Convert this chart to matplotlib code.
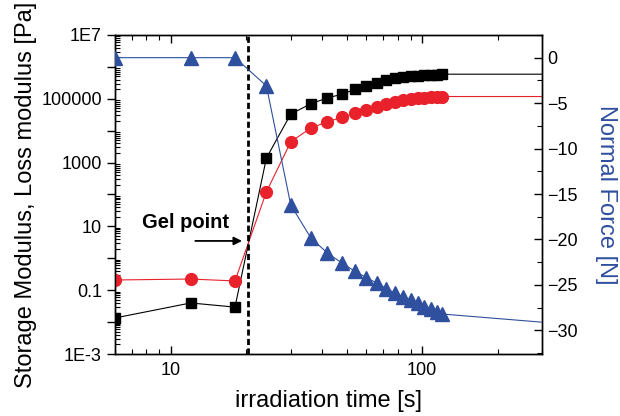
import math
import matplotlib.pyplot as plt
from matplotlib.ticker import LogLocator, FuncFormatter, MultipleLocator, NullFormatter

plt.rcParams['font.family'] = ['Liberation Sans', 'DejaVu Sans']

# irradiation time [s], every 6 s up to 120, last value only carries the line
times = [6, 12, 18, 24, 30, 36, 42, 48, 54, 60, 66, 72, 78, 84, 90,
         96, 102, 108, 114, 120, 300]

# storage modulus G' [Pa] (log10 values)
g_storage_log = [-1.87, -1.40, -1.53, 3.14, 4.52, 4.84, 5.03, 5.14, 5.30, 5.40,
                 5.50, 5.59, 5.64, 5.67, 5.71, 5.71, 5.74, 5.75, 5.76, 5.77, 5.77]
# loss modulus G'' [Pa]
g_loss_log = [-0.68, -0.65, -0.71, 2.08, 3.65, 4.08, 4.28, 4.42, 4.55, 4.65,
              4.75, 4.84, 4.91, 4.96, 4.99, 5.02, 5.03, 5.05, 5.06, 5.07, 5.07]
# normal force [N]
normal_force = [0, 0, 0, -3.1, -16.2, -19.8, -21.5, -22.6, -23.5, -24.2,
                -24.8, -25.4, -25.9, -26.3, -26.7, -27.0, -27.4, -27.7, -28.0,
                -28.2, -29.1]

g_storage = [10 ** v for v in g_storage_log]
g_loss = [10 ** v for v in g_loss_log]

gel_time = 20.2

blue = '#2f4f9f'
red = '#e8212b'

fig = plt.figure(figsize=(6.2, 4.16), dpi=100)
ax = fig.add_axes([0.1855, 0.149, 0.689, 0.767])
ax2 = ax.twinx()

marks = list(range(len(times) - 1))
ax.plot(times, g_storage, color='black', lw=0.8, marker='s', ms=7,
        markevery=marks, zorder=3)
ax.plot(times, g_loss, color=red, lw=0.8, marker='o', ms=8.5,
        markevery=marks, zorder=3)
ax2.plot(times, normal_force, color=blue, lw=0.8, marker='^', ms=9.5,
         markevery=marks, zorder=3)

ax.axvline(gel_time, color='black', lw=2, ls=(0, (2.2, 1.2)), zorder=4)

ax.set_xscale('log')
ax.set_yscale('log')
ax.set_xlim(6, 300)
ax.set_ylim(1e-3, 1e7)
ax2.set_ylim(-32.6, 2.5)

ax.yaxis.set_major_locator(LogLocator(base=10, numticks=20))
ax.yaxis.set_minor_locator(LogLocator(base=10, subs=range(2, 10), numticks=20))
ax.yaxis.set_minor_formatter(NullFormatter())

ytext = {-3: '1E-3', -1: '0.1', 1: '10', 3: '1000', 5: '100000', 7: '1E7'}


def yfmt(v, pos):
    e = int(round(math.log10(v)))
    return ytext.get(e, '')


ax.yaxis.set_major_formatter(FuncFormatter(yfmt))
ax.xaxis.set_major_formatter(FuncFormatter(lambda v, p: '%d' % v))
ax.xaxis.set_minor_formatter(NullFormatter())

ax2.yaxis.set_major_locator(MultipleLocator(5))
ax2.yaxis.set_minor_locator(MultipleLocator(2.5))

ax.tick_params(axis='x', which='both', direction='in', top=True, labelsize=13)
ax.tick_params(axis='x', which='major', length=6, width=1, pad=6)
ax.tick_params(axis='x', which='minor', length=3.5, width=0.8)
ax.tick_params(axis='y', which='major', direction='out', length=6, width=1,
               labelsize=13)
ax.tick_params(axis='y', which='minor', direction='in', length=3.5, width=0.8)
ax2.tick_params(axis='y', which='major', direction='in', length=6, width=1,
                labelsize=13)
ax2.tick_params(axis='y', which='minor', direction='in', length=3.5, width=0.8)

for a in (ax, ax2):
    for s in a.spines.values():
        s.set_linewidth(1)

ax.set_xlabel('irradiation time [s]', fontsize=17, labelpad=8)
ax.set_ylabel('Storage Modulus, Loss modulus [Pa]', fontsize=17, labelpad=3)
ax2.set_ylabel('Normal Force [N]', fontsize=17, color=blue, rotation=270,
               labelpad=28)

ax.text(7.7, 13, 'Gel point', fontsize=14.5, fontweight='bold', ha='left',
        va='center')
ax.annotate('', xy=(19.7, 3.5), xytext=(12.2, 3.5),
            arrowprops=dict(arrowstyle='-|>', color='black', lw=1.3,
                            mutation_scale=12))

fig.savefig('out.png', dpi=100)
